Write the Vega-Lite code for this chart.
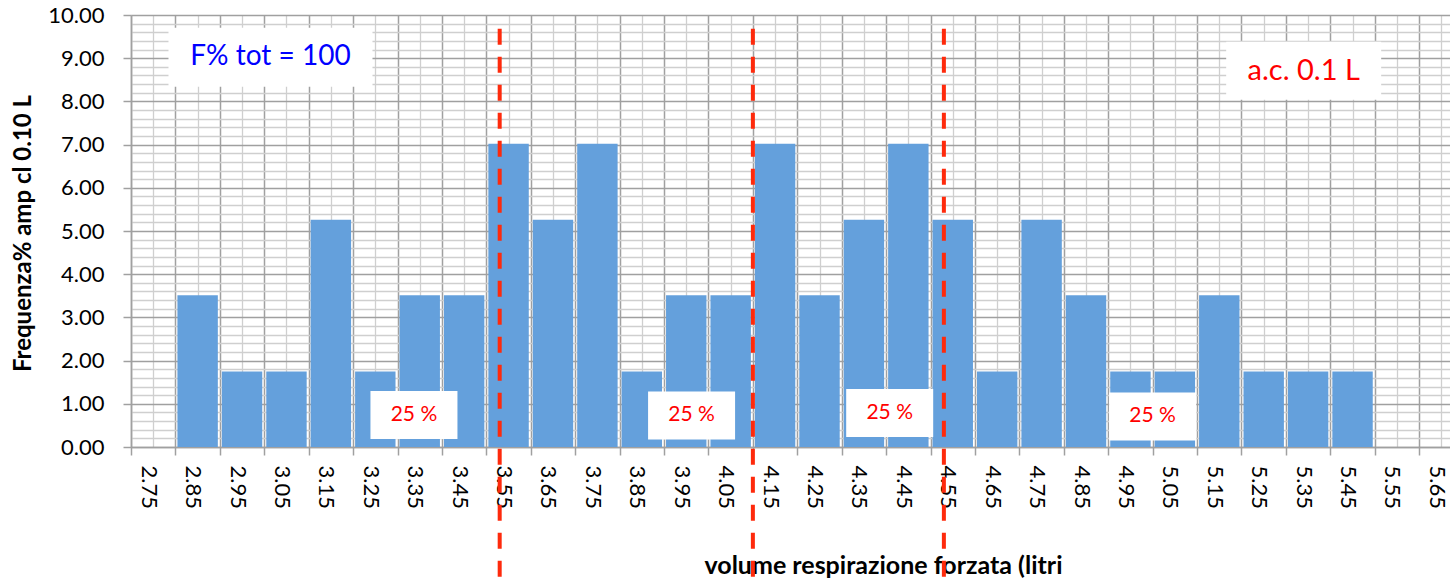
{
  "$schema": "https://vega.github.io/schema/vega-lite/v6.json",
  "width": 1319,
  "height": 432,
  "autosize": {"type": "none"},
  "padding": {"left": 131, "top": 15, "right": 0, "bottom": 135},
  "background": "white",
  "config": {
    "view": {"stroke": null},
    "font": "Lato"
  },
  "datasets": {
    "classi": [
      {"classe": "2.75", "da": 2.70, "a": 2.80, "freq": 0},
      {"classe": "2.85", "da": 2.80, "a": 2.90, "freq": 3.51},
      {"classe": "2.95", "da": 2.90, "a": 3.00, "freq": 1.75},
      {"classe": "3.05", "da": 3.00, "a": 3.10, "freq": 1.75},
      {"classe": "3.15", "da": 3.10, "a": 3.20, "freq": 5.26},
      {"classe": "3.25", "da": 3.20, "a": 3.30, "freq": 1.75},
      {"classe": "3.35", "da": 3.30, "a": 3.40, "freq": 3.51},
      {"classe": "3.45", "da": 3.40, "a": 3.50, "freq": 3.51},
      {"classe": "3.55", "da": 3.50, "a": 3.60, "freq": 7.02},
      {"classe": "3.65", "da": 3.60, "a": 3.70, "freq": 5.26},
      {"classe": "3.75", "da": 3.70, "a": 3.80, "freq": 7.02},
      {"classe": "3.85", "da": 3.80, "a": 3.90, "freq": 1.75},
      {"classe": "3.95", "da": 3.90, "a": 4.00, "freq": 3.51},
      {"classe": "4.05", "da": 4.00, "a": 4.10, "freq": 3.51},
      {"classe": "4.15", "da": 4.10, "a": 4.20, "freq": 7.02},
      {"classe": "4.25", "da": 4.20, "a": 4.30, "freq": 3.51},
      {"classe": "4.35", "da": 4.30, "a": 4.40, "freq": 5.26},
      {"classe": "4.45", "da": 4.40, "a": 4.50, "freq": 7.02},
      {"classe": "4.55", "da": 4.50, "a": 4.60, "freq": 5.26},
      {"classe": "4.65", "da": 4.60, "a": 4.70, "freq": 1.75},
      {"classe": "4.75", "da": 4.70, "a": 4.80, "freq": 5.26},
      {"classe": "4.85", "da": 4.80, "a": 4.90, "freq": 3.51},
      {"classe": "4.95", "da": 4.90, "a": 5.00, "freq": 1.75},
      {"classe": "5.05", "da": 5.00, "a": 5.10, "freq": 1.75},
      {"classe": "5.15", "da": 5.10, "a": 5.20, "freq": 3.51},
      {"classe": "5.25", "da": 5.20, "a": 5.30, "freq": 1.75},
      {"classe": "5.35", "da": 5.30, "a": 5.40, "freq": 1.75},
      {"classe": "5.45", "da": 5.40, "a": 5.50, "freq": 1.75},
      {"classe": "5.55", "da": 5.50, "a": 5.60, "freq": 0},
      {"classe": "5.65", "da": 5.60, "a": 5.70, "freq": 0}
    ],
    "quartili": [
      {"statistica": "Q1", "valore": 3.53},
      {"statistica": "Me", "valore": 4.10},
      {"statistica": "Q3", "valore": 4.53}
    ],
    "quarti": [
      {"testo": "25 %", "x": 3.337, "y": 0.741},
      {"testo": "25 %", "x": 3.962, "y": 0.730},
      {"testo": "25 %", "x": 4.408, "y": 0.788},
      {"testo": "25 %", "x": 5.000, "y": 0.707}
    ],
    "totale": [{"testo": "F% tot = 100", "x": 3.014, "y": 9.02}],
    "ampiezza": [{"testo": "a.c. 0.1 L", "x": 5.340, "y": 8.71}]
  },
  "layer": [
    {
      "data": {"name": "classi"},
      "mark": {"type": "bar", "color": "#64a0dc", "xOffset": 2, "x2Offset": -2},
      "encoding": {
        "x": {
          "field": "da", "type": "quantitative",
          "scale": {"domain": [2.70, 5.6694], "nice": false, "zero": false},
          "axis": {
            "values": [2.70,2.75,2.80,2.85,2.90,2.95,3.00,3.05,3.10,3.15,3.20,3.25,3.30,3.35,3.40,3.45,3.50,3.55,3.60,3.65,3.70,3.75,3.80,3.85,3.90,3.95,4.00,4.05,4.10,4.15,4.20,4.25,4.30,4.35,4.40,4.45,4.50,4.55,4.60,4.65,4.70,4.75,4.80,4.85,4.90,4.95,5.00,5.05,5.10,5.15,5.20,5.25,5.30,5.35,5.40,5.45,5.50,5.55,5.60,5.65],
            "tickCount": 200,
            "labelExpr": "round(datum.value*100)%10==5 ? format(datum.value,'.2f') : ''",
            "labelAngle": 90,
            "labelOverlap": false,
            "labelFlush": false,
            "labelFont": "Lato",
            "labelFontSize": 22,
            "labelColor": "#000000",
            "labelPadding": 10,
            "labelOffset": -5,
            "tickSize": 8,
            "tickWidth": 1.5,
            "tickColor": "#a0a0a0",
            "tickOpacity": {"condition": {"test": "round(datum.value*100)%10==5", "value": 0}, "value": 1},
            "grid": true,
            "gridColor": {"condition": {"test": "round(datum.value*100)%10==5", "value": "#cfcfcf"}, "value": "#a0a0a0"},
            "gridWidth": {"condition": {"test": "round(datum.value*100)%10==5", "value": 1.3}, "value": 1.5},
            "gridOpacity": 1,
            "domainColor": "#a0a0a0",
            "domainWidth": 1.5,
            "title": "volume respirazione forzata (litri",
            "titleFont": "Lato",
            "titleFontSize": 25,
            "titleFontWeight": "bold",
            "titleColor": "#000000",
            "titleX": 752,
            "titleY": 126,
            "titleAlign": "center",
            "titleBaseline": "alphabetic"
          }
        },
        "x2": {"field": "a"},
        "y": {
          "field": "freq", "type": "quantitative",
          "scale": {"domain": [0, 10], "nice": false, "zero": true},
          "axis": {
            "values": [0,0.2,0.4,0.6,0.8,1,1.2,1.4,1.6,1.8,2,2.2,2.4,2.6,2.8,3,3.2,3.4,3.6,3.8,4,4.2,4.4,4.6,4.8,5,5.2,5.4,5.6,5.8,6,6.2,6.4,6.6,6.8,7,7.2,7.4,7.6,7.8,8,8.2,8.4,8.6,8.8,9,9.2,9.4,9.6,9.8,10],
            "tickCount": 200,
            "labelExpr": "abs(datum.value-round(datum.value))<0.01 ? format(datum.value,'.2f') : ''",
            "labelOverlap": false,
            "labelFlush": false,
            "labelFont": "Lato",
            "labelFontSize": 22,
            "labelColor": "#000000",
            "labelPadding": 19,
            "tickSize": 8,
            "tickWidth": 1.5,
            "tickColor": "#a0a0a0",
            "tickOpacity": {"condition": {"test": "abs(datum.value-round(datum.value))<0.01", "value": 1}, "value": 0},
            "grid": true,
            "gridColor": {"condition": {"test": "abs(datum.value-round(datum.value))<0.01", "value": "#a0a0a0"}, "value": "#cfcfcf"},
            "gridWidth": {"condition": {"test": "abs(datum.value-round(datum.value))<0.01", "value": 1.5}, "value": 1.3},
            "gridOpacity": 1,
            "domainColor": "#a0a0a0",
            "domainWidth": 1.5,
            "title": "Frequenza%  amp cl 0.10 L",
            "titleFont": "Lato",
            "titleFontSize": 24,
            "titleFontWeight": "bold",
            "titleColor": "#000000",
            "titleAngle": 270,
            "titleX": -108,
            "titleY": 218,
            "titleAlign": "center",
            "titleBaseline": "middle"
          }
        },
        "y2": {"datum": 0}
      }
    },
    {
      "data": {"name": "totale"},
      "mark": {"type": "rect", "color": "white", "width": 204, "height": 59},
      "encoding": {
        "x": {"field": "x", "type": "quantitative"},
        "y": {"field": "y", "type": "quantitative"}
      }
    },
    {
      "data": {"name": "ampiezza"},
      "mark": {"type": "rect", "color": "white", "width": 155, "height": 58},
      "encoding": {
        "x": {"field": "x", "type": "quantitative"},
        "y": {"field": "y", "type": "quantitative"}
      }
    },
    {
      "data": {"name": "quarti"},
      "mark": {"type": "rect", "color": "white", "width": 87, "height": 48},
      "encoding": {
        "x": {"field": "x", "type": "quantitative"},
        "y": {"field": "y", "type": "quantitative"}
      }
    },
    {
      "data": {"name": "totale"},
      "mark": {"type": "text", "color": "#0000ff", "font": "Lato", "fontSize": 28, "align": "center", "baseline": "middle"},
      "encoding": {
        "x": {"field": "x", "type": "quantitative"},
        "y": {"field": "y", "type": "quantitative"},
        "text": {"field": "testo"}
      }
    },
    {
      "data": {"name": "ampiezza"},
      "mark": {"type": "text", "color": "#ff0000", "font": "Lato", "fontSize": 29, "align": "center", "baseline": "middle"},
      "encoding": {
        "x": {"field": "x", "type": "quantitative"},
        "y": {"field": "y", "type": "quantitative"},
        "text": {"field": "testo"}
      }
    },
    {
      "data": {"name": "quarti"},
      "mark": {"type": "text", "color": "#ff0000", "font": "Lato", "fontSize": 21, "align": "center", "baseline": "middle"},
      "encoding": {
        "x": {"field": "x", "type": "quantitative"},
        "y": {"field": "y", "type": "quantitative"},
        "text": {"field": "testo"}
      }
    },
    {
      "data": {"name": "quartili"},
      "mark": {"type": "rule", "color": "#fe2a0c", "strokeWidth": 4, "strokeDash": [16, 12]},
      "encoding": {
        "x": {"field": "valore", "type": "quantitative"},
        "y": {"datum": 9.68},
        "y2": {"datum": -3.6}
      }
    }
  ]
}
